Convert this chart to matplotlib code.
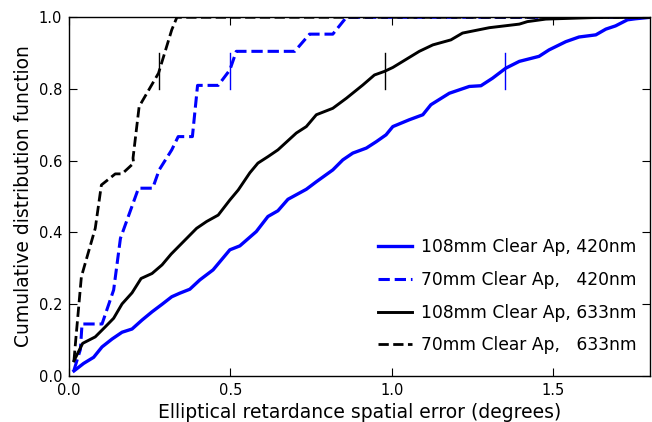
import numpy as np
import matplotlib
matplotlib.use('Agg')
import matplotlib.pyplot as plt

# 108 mm clear aperture, 420 nm
x_108_420 = [0.015, 0.045, 0.076, 0.102, 0.133, 0.164, 0.195, 0.226, 0.257, 0.288, 0.318,
             0.343, 0.374, 0.405, 0.446, 0.498, 0.529, 0.58, 0.616, 0.647, 0.678, 0.735,
             0.766, 0.817, 0.848, 0.879, 0.921, 0.952, 0.982, 1.003, 1.054, 1.096, 1.121,
             1.178, 1.24, 1.276, 1.312, 1.353, 1.395, 1.456, 1.487, 1.539, 1.58, 1.632,
             1.663, 1.693, 1.73, 1.755, 1.80]
y_108_420 = [0.013, 0.034, 0.051, 0.080, 0.102, 0.121, 0.130, 0.155, 0.178, 0.199, 0.220,
             0.230, 0.241, 0.267, 0.295, 0.351, 0.362, 0.402, 0.444, 0.460, 0.492, 0.520,
             0.541, 0.574, 0.602, 0.621, 0.635, 0.653, 0.672, 0.695, 0.714, 0.728, 0.756,
             0.788, 0.807, 0.809, 0.830, 0.858, 0.877, 0.891, 0.909, 0.932, 0.945, 0.951,
             0.967, 0.976, 0.993, 0.996, 1.0]

# 70 mm clear aperture, 420 nm
x_70_420 = [0.015, 0.035, 0.04, 0.102, 0.138, 0.159, 0.215, 0.259, 0.279, 0.318, 0.338,
            0.382, 0.398, 0.462, 0.498, 0.518, 0.699, 0.745, 0.817, 0.859, 1.80]
y_70_420 = [0.015, 0.073, 0.144, 0.144, 0.239, 0.383, 0.523, 0.523, 0.574, 0.630, 0.667,
            0.667, 0.810, 0.810, 0.853, 0.905, 0.905, 0.953, 0.953, 1.0, 1.0]

# 108 mm clear aperture, 633 nm
x_108_633 = [0.015, 0.042, 0.081, 0.112, 0.138, 0.164, 0.195, 0.223, 0.257, 0.288, 0.316,
             0.395, 0.426, 0.462, 0.498, 0.524, 0.56, 0.585, 0.616, 0.647, 0.704, 0.735,
             0.766, 0.817, 0.859, 0.91, 0.946, 0.977, 1.003, 1.034, 1.085, 1.127, 1.183,
             1.219, 1.302, 1.395, 1.42, 1.477, 1.58, 1.65, 1.80]
y_108_633 = [0.041, 0.090, 0.108, 0.136, 0.160, 0.200, 0.231, 0.271, 0.285, 0.309, 0.339,
             0.411, 0.430, 0.448, 0.490, 0.518, 0.566, 0.593, 0.611, 0.630, 0.677, 0.695,
             0.728, 0.746, 0.774, 0.811, 0.839, 0.849, 0.860, 0.877, 0.905, 0.923, 0.937,
             0.956, 0.971, 0.981, 0.988, 0.995, 0.998, 1.0, 1.0]

# 70 mm clear aperture, 633 nm
x_70_633 = [0.015, 0.02, 0.038, 0.081, 0.10, 0.143, 0.164, 0.20, 0.198, 0.217, 0.277,
            0.318, 0.334, 1.80]
y_70_633 = [0.041, 0.094, 0.276, 0.411, 0.532, 0.563, 0.563, 0.593, 0.607, 0.751, 0.844,
            0.965, 1.0, 1.0]

# 85th-percentile markers
p85 = [1.35, 0.50, 0.98, 0.28]
colors = ['blue', 'blue', 'black', 'black']

fig = plt.figure(figsize=[6.52, 4.22], dpi=100)
ax = fig.add_axes([0.106, 0.110, 0.891, 0.849])

ax.plot(x_108_420, y_108_420, color='blue', lw=2.4, label='108mm Clear Ap, 420nm')
ax.plot(x_70_420, y_70_420, color='blue', lw=2.2, ls='--', label='70mm Clear Ap,   420nm')
ax.plot(x_108_633, y_108_633, color='black', lw=2.1, label='108mm Clear Ap, 633nm')
ax.plot(x_70_633, y_70_633, color='black', lw=2.0, ls='--', label='70mm Clear Ap,   633nm')

for xp, c in zip(p85, colors):
    ax.plot([xp, xp], [0.8, 0.9], color=c, lw=1.0)

ax.set_xlim(0, 1.8)
ax.set_ylim(0, 1.0)
ax.set_xticks([0.0, 0.5, 1.0, 1.5])
ax.set_yticks([0.0, 0.2, 0.4, 0.6, 0.8, 1.0])
ax.tick_params(direction='in', top=True, right=True, length=6, labelsize=10.5, pad=5)
for s in ax.spines.values():
    s.set_linewidth(1.0)

ax.set_xlabel('Elliptical retardance spatial error (degrees)', fontsize=13.5)
ax.set_ylabel('Cumulative distribution function', fontsize=13.5)
ax.legend(loc='lower right', bbox_to_anchor=(1.0, 0.022), frameon=False, fontsize=12.3,
          labelspacing=0.85, handlelength=2.0, handletextpad=0.5, borderaxespad=0.4)

fig.savefig('out.png', dpi=100)
